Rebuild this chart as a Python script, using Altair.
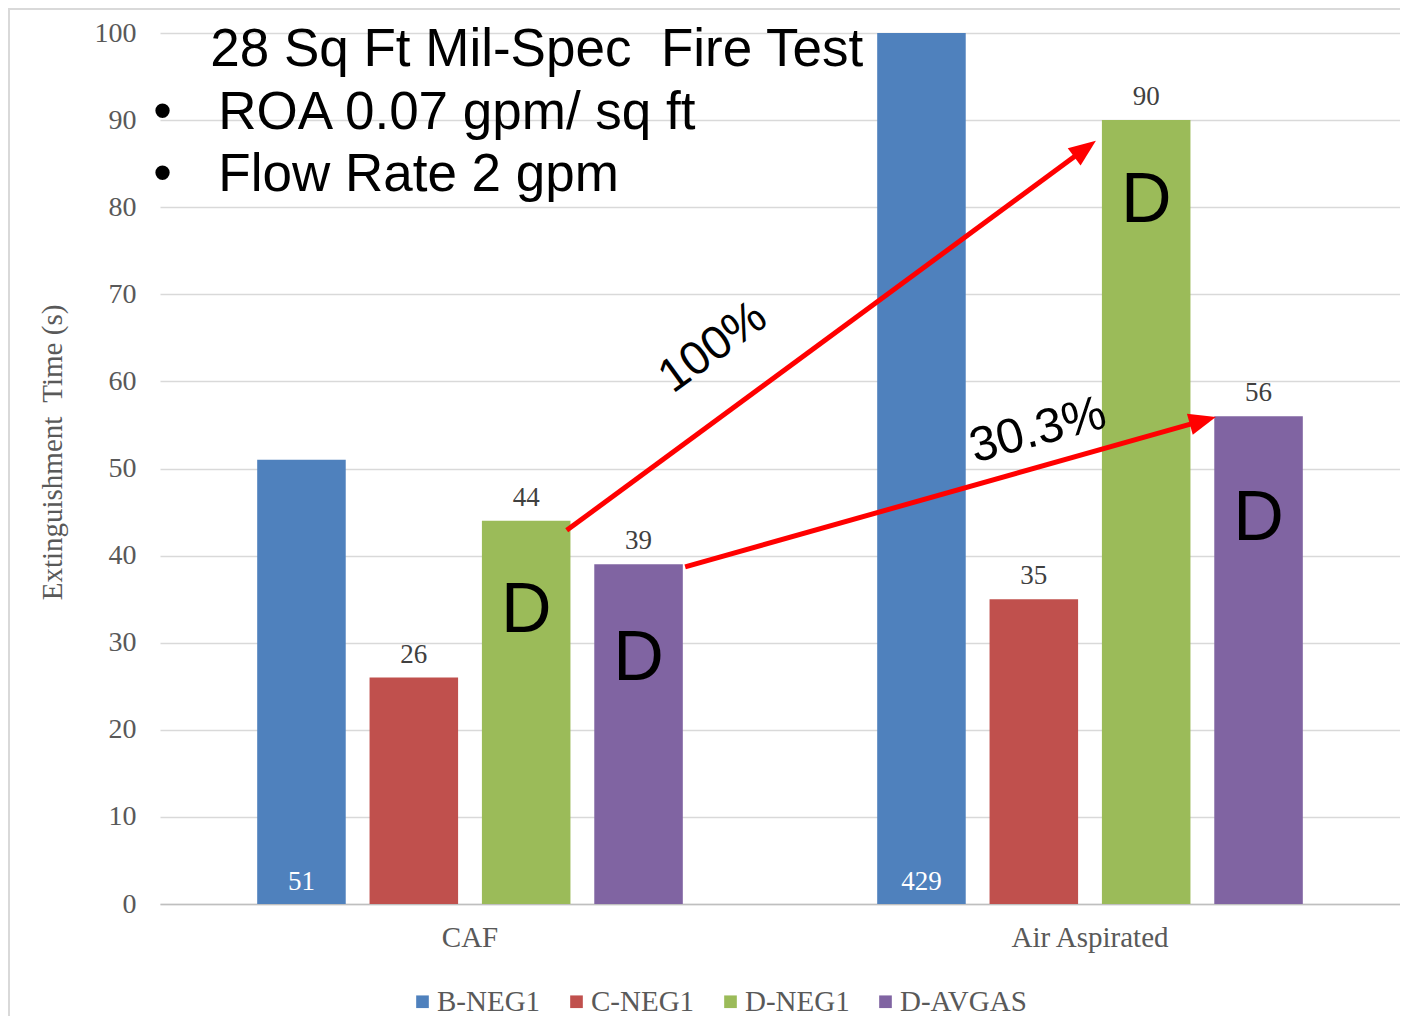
import altair as alt
import pandas as pd

# ---------------- data ----------------
groups = ["CAF", "Air Aspirated"]
series = ["B-NEG1", "C-NEG1", "D-NEG1", "D-AVGAS"]
colors = ["#4F81BD", "#C0504D", "#9BBB59", "#8064A2"]
caf_values = [51, 26, 44, 39]
air_values = [429, 35, 90, 56]
base_label_series = ["B-NEG1"]          # labels drawn inside the bar base

# "D" markers over bars
d_group = ["CAF", "CAF", "Air Aspirated", "Air Aspirated"]
d_series = ["D-NEG1", "D-AVGAS", "D-NEG1", "D-AVGAS"]
d_y = [31.2, 25.7, 78.3, 41.8]

# arrows (x in group units: 0..2 across the plot, y in seconds)
arrow_x1 = [0.656, 0.847]
arrow_y1 = [42.9, 38.7]
arrow_x2 = [1.492, 1.682]
arrow_y2 = [86.7, 55.5]
arrow_angle = [53.6, 74.3]

# percentage labels
pct_text = ["100%", "30.3%"]
pct_x = [0.892, 1.416]
pct_y = [63.9, 54.4]
pct_angle = [324, 345]
pct_size = [47, 49]

# note block
note_text = ["28 Sq Ft Mil-Spec\u00a0 Fire Test", "ROA 0.07 gpm/ sq ft", "Flow Rate 2 gpm"]
note_x = [0.081, 0.094, 0.094]
note_y = [96.2, 89.0, 81.9]
bullet_x = [0.004, 0.004]
bullet_y = [89.0, 81.9]

SERIF = "Liberation Serif"
SANS = "Liberation Sans"
GRAY = "#595959"

df = pd.DataFrame({
    "Group": [g for g in groups for _ in series],
    "Series": series * len(groups),
    "Value": caf_values + air_values,
})
df["base"] = 0

yscale = alt.Scale(domain=[0, 100], nice=False, clamp=True)
xscale = alt.Scale(paddingInner=0, paddingOuter=0)
xoff_scale = alt.Scale(paddingInner=0.212, paddingOuter=0.865)

x_enc = alt.X("Group:N", sort=groups, scale=xscale,
              axis=alt.Axis(title=None, labelAngle=0, domain=True, domainColor="#bfbfbf",
                            domainWidth=1.5, ticks=False, labelFont=SERIF, labelFontSize=29,
                            labelColor=GRAY, labelPadding=19))
xoff_enc = alt.XOffset("Series:N", sort=series, scale=xoff_scale)

bars = alt.Chart(df).mark_bar().encode(
    x=x_enc,
    xOffset=xoff_enc,
    y=alt.Y("Value:Q", scale=yscale,
            axis=alt.Axis(values=list(range(0, 101, 10)), grid=True, gridColor="#d9d9d9",
                          gridWidth=1.5, domain=False, ticks=False, labelFont=SERIF,
                          labelFontSize=28, labelColor=GRAY, labelPadding=24,
                          title="Extinguishment\u00a0 Time (s)", titleFont=SERIF, titleFontSize=29,
                          titleColor=GRAY, titleFontWeight="normal", titleX=-108, titleY=419,
                          titleAlign="center", titleBaseline="middle")),
    color=alt.Color("Series:N", sort=series, scale=alt.Scale(domain=series, range=colors),
                    legend=alt.Legend(title=None, orient="none", legendX=248, legendY=954,
                                      direction="horizontal", symbolType="square",
                                      symbolSize=160, symbolStrokeWidth=0, labelFont=SERIF,
                                      labelFontSize=29, labelColor=GRAY, labelOffset=0,
                                      columnPadding=21, padding=0)),
)

top_labels = alt.Chart(df).transform_filter(
    ~alt.FieldOneOfPredicate(field="Series", oneOf=base_label_series)
).mark_text(baseline="alphabetic", dy=-15, font=SERIF, fontSize=27, color="#404040").encode(
    x=alt.X("Group:N", sort=groups), xOffset=alt.XOffset("Series:N", sort=series),
    y=alt.Y("Value:Q"), text=alt.Text("Value:Q"),
)

base_labels = alt.Chart(df).transform_filter(
    alt.FieldOneOfPredicate(field="Series", oneOf=base_label_series)
).mark_text(baseline="alphabetic", dy=-14, font=SERIF, fontSize=27, color="white").encode(
    x=alt.X("Group:N", sort=groups), xOffset=alt.XOffset("Series:N", sort=series),
    y=alt.Y("base:Q"), text=alt.Text("Value:Q"),
)

d_df = pd.DataFrame({"Group": d_group, "Series": d_series, "ypos": d_y, "t": ["D"] * 4})
d_labels = alt.Chart(d_df).mark_text(baseline="alphabetic", align="center", font=SANS,
                                     fontSize=70, color="black").encode(
    x=alt.X("Group:N", sort=groups), xOffset=alt.XOffset("Series:N", sort=series),
    y=alt.Y("ypos:Q"), text="t:N",
)

bar_layer = alt.layer(bars, top_labels, base_labels, d_labels)

# ---------------- overlay (annotations) ----------------
ox = alt.Scale(domain=[0, 2], nice=False, zero=False)
oy = alt.Scale(domain=[0, 100], nice=False)

arrow_df = pd.DataFrame({"x1": arrow_x1, "y1": arrow_y1, "x2": arrow_x2, "y2": arrow_y2,
                         "angle": arrow_angle})
arrow_lines = alt.Chart(arrow_df).mark_rule(color="#FF0000", strokeWidth=5).encode(
    x=alt.X("x1:Q", scale=ox, axis=None), x2="x2:Q",
    y=alt.Y("y1:Q", scale=oy, axis=None), y2="y2:Q",
)
arrow_heads = alt.Chart(arrow_df).mark_point(
    shape="M0,-1L0.8,1L-0.8,1Z", filled=True, size=729, color="#FF0000", opacity=1,
    strokeWidth=0).encode(
    x=alt.X("x2:Q", scale=ox, axis=None),
    y=alt.Y("y2:Q", scale=oy, axis=None),
    angle=alt.Angle("angle:Q", scale=None),
)

pct_df = pd.DataFrame({"t": pct_text, "x": pct_x, "y": pct_y, "angle": pct_angle,
                       "size": pct_size})
pct_labels = alt.Chart(pct_df).mark_text(align="center", baseline="middle", font=SANS,
                                         color="black").encode(
    x=alt.X("x:Q", scale=ox, axis=None),
    y=alt.Y("y:Q", scale=oy, axis=None),
    text="t:N",
    angle=alt.Angle("angle:Q", scale=None),
    size=alt.Size("size:Q", scale=None),
)

note_df = pd.DataFrame({"t": note_text, "x": note_x, "y": note_y})
notes = alt.Chart(note_df).mark_text(align="left", baseline="alphabetic", font=SANS,
                                     fontSize=53, color="black").encode(
    x=alt.X("x:Q", scale=ox, axis=None),
    y=alt.Y("y:Q", scale=oy, axis=None),
    text="t:N",
)

bullet_df = pd.DataFrame({"t": ["\u2022"] * 2, "x": bullet_x, "y": bullet_y})
bullets = alt.Chart(bullet_df).mark_text(align="center", baseline="alphabetic", font=SANS,
                                         fontSize=53, color="black").encode(
    x=alt.X("x:Q", scale=ox, axis=None),
    y=alt.Y("y:Q", scale=oy, axis=None),
    text="t:N",
)

overlay = alt.layer(arrow_lines, arrow_heads, pct_labels, notes, bullets)

border = alt.Chart(pd.DataFrame({"a": [0]})).mark_rect(
    fillOpacity=0, stroke="#d9d9d9", strokeWidth=2).encode(
    x=alt.value(-151), x2=alt.value(1400), y=alt.value(-24), y2=alt.value(1000),
)

chart = alt.layer(border, bar_layer, overlay).resolve_scale(
    x="independent", y="independent"
).properties(
    width=1240, height=871,
    padding={"left": 152, "top": 25, "right": 0, "bottom": 112},
    autosize="none",
).configure_view(stroke=None)

chart.save("out.html", embed_options={"renderer": "svg", "actions": False})
